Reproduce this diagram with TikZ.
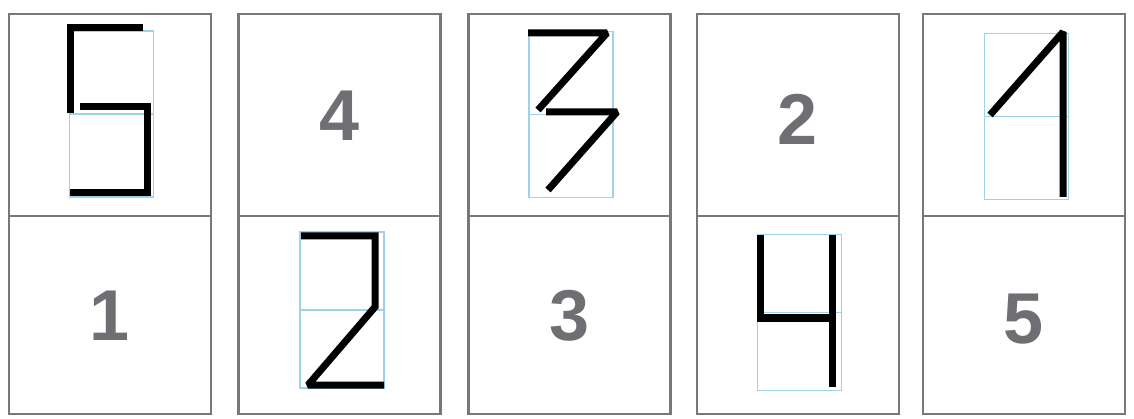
\documentclass[tikz,border=0pt]{standalone}
\usepackage{fontspec}
\setsansfont{Liberation Sans}
\usetikzlibrary{positioning}
\definecolor{framegray}{HTML}{787878}
\definecolor{numgray}{HTML}{6F6F73}
\definecolor{gridblue}{HTML}{9ED2EA}

\begin{document}
\begin{tikzpicture}[
    x=1pt, y=-1pt,
    card/.style={
        rectangle, draw=framegray, line width=2.8pt,
        minimum width=202pt, minimum height=#1, inner sep=0pt
    },
    card/.default=200pt,
    cell/.style={
        rectangle, draw=gridblue, line width=1.4pt,
        minimum width=84pt, minimum height=#1, inner sep=0pt
    },
    cell/.default=166pt,
    digit/.style={
        font=\sffamily\bfseries\fontsize{72}{72}\selectfont,
        text=numgray, inner sep=0pt
    },
    pen/.style={line width=7pt, black, miter limit=2},
    midline/.style={draw=gridblue, line width=1.4pt},
]
\useasboundingbox (0,0) rectangle (1134,419);

% ── Cards, top row ──
\node[card=202pt] (t1) at (110,115) {};
\node[card=202pt] (t2) at (339.5,115) {};
\node[card=202pt] (t3) at (569.5,115) {};
\node[card=202pt] (t4) at (798,115) {};
\node[card=202pt] (t5) at (1024,115) {};

% ── Cards, bottom row ──
\node[card=198pt] (b1) at (110,315) {};
\node[card=198pt] (b2) at (339.5,315) {};
\node[card=198pt] (b3) at (569.5,315) {};
\node[card=198pt] (b4) at (798,315) {};
\node[card=198pt] (b5) at (1024,315) {};

% ── Printed numbers ──
\node[digit] (n1) at (110,316) {1};
\node[digit] (n4) at (339.5,116) {4};
\node[digit] (n3) at (569.5,316) {3};
\node[digit] (n2) at (798,119) {2};
\node[digit] (n5) at (1024,319) {5};

% ── Writing cells ──
\node[cell] (g1) at (111.5,114) {};
\node[cell=156pt] (g2) at (342,310) {};
\node[cell] (g3) at (571,114.5) {};
\node[cell=156pt] (g4) at (799.5,312.5) {};
\node[cell] (g5) at (1026.5,116.5) {};

\draw[midline] (g1.west) -- (g1.east);
\draw[midline] (g2.west) -- (g2.east);
\draw[midline] (g3.west) -- (g3.east);
\draw[midline] (g4.west) -- (g4.east);
\draw[midline] (g5.west) -- (g5.east);

% ── Handwritten strokes ──
% five
\draw[pen] (143,28) -- (70,28) -- (70,113);
\draw[pen] (80,107) -- (147,107) -- (147,193) -- (70,193);
% two
\draw[pen] (301,236) -- (375,236) -- (375,307) -- (308,385) -- (384,385);
% three
\draw[pen] (528,33) -- (607,33) -- (538,110);
\draw[pen] (546,112) -- (617,112) -- (548,190);
% four
\draw[pen] (760,235) -- (760,318) -- (832,318);
\draw[pen] (832,235) -- (832,387);
% one
\draw[pen] (990,115) -- (1063,32) -- (1063,197);

\end{tikzpicture}
\end{document}
